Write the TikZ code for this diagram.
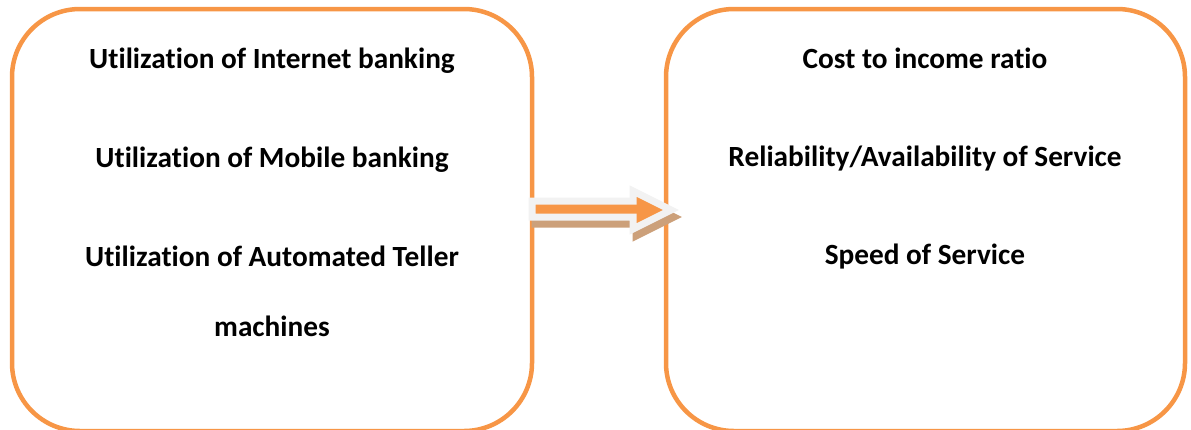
\documentclass[tikz,border=0pt]{standalone}
\usepackage{fontspec}
\setmainfont[RawFeature=-liga]{Carlito}
\definecolor{boxorange}{RGB}{247,150,70}
\definecolor{arrowrim}{RGB}{242,242,242}
\definecolor{arrowshade}{RGB}{204,160,122}
\begin{document}
\begin{tikzpicture}[x=1pt,y=-1pt,
  panel/.style={draw=boxorange,line width=4.5pt,rounded corners=68pt},
  item/.style={font=\fontsize{29.3}{33}\selectfont\bfseries,anchor=base,inner sep=0pt}]
\useasboundingbox (0,0) rectangle (1191,429);
\clip (0,0) rectangle (1191,429);
% two panels, bottoms run past the lower edge
\draw[panel] (12,9) rectangle (532,431);
\draw[panel] (666,9) rectangle (1185,431);
% left panel items
\node[item] (i1) at (272,68.3) {Utilization of Internet banking};
\node[item] (i2) at (272,167) {Utilization of Mobile banking};
\node[item] (i3) at (272,266.5) {Utilization of Automated Teller};
\node[item] (i4) at (272,336.5) {machines};
% right panel items
\node[item] (o1) at (925,68.3) {Cost to income ratio};
\node[item] (o2) at (925,166.7) {Reliability/Availability of Service};
\node[item] (o3) at (925,264.3) {Speed of Service};
% block arrow between the panels, with its shadow
\def\blockarrow{(532,201) -- (633,201) -- (633,191) -- (671,210) -- (633,229) -- (633,217) -- (532,217) -- cycle}
\begin{scope}[shift={(3,7)}]
\fill[arrowshade,draw=arrowshade,line width=7pt,line join=miter] \blockarrow;
\end{scope}
\filldraw[fill=boxorange,draw=arrowrim,line width=7pt,line join=miter] \blockarrow;
\end{tikzpicture}
\end{document}
